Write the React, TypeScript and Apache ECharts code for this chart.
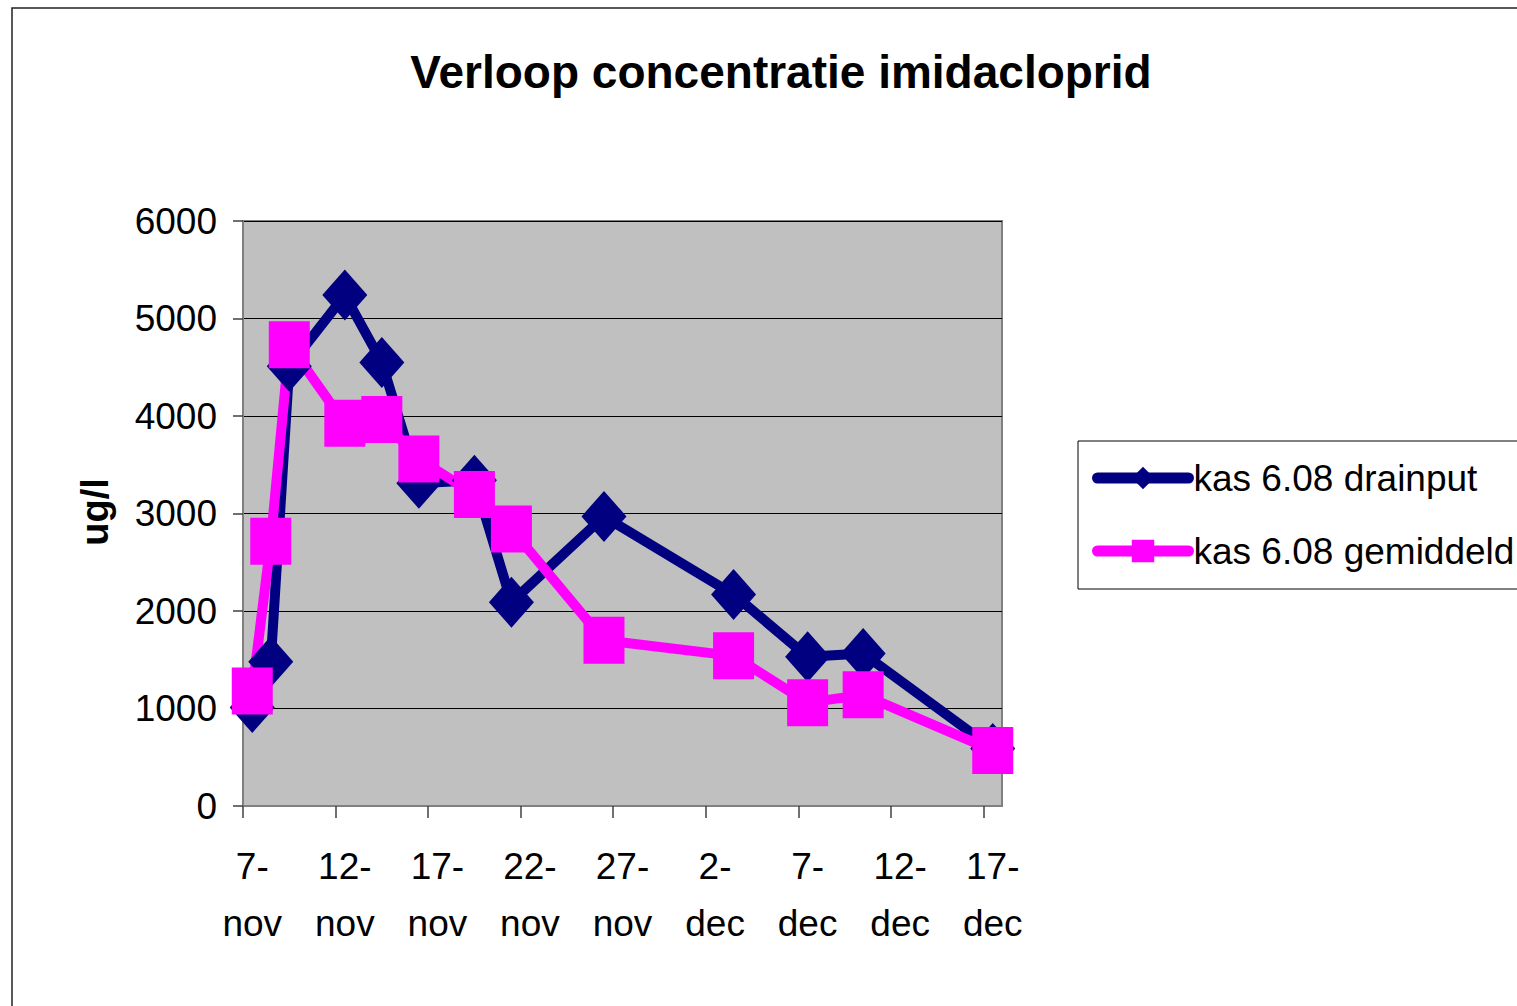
import React, { useEffect, useRef } from "react";
import * as echarts from "echarts";

// ---- data ----
const startDate = "2007-11-07";
const axisEndDate = "2007-12-18";
const sampleDates = [
  "2007-11-07", "2007-11-08", "2007-11-09", "2007-11-12", "2007-11-14",
  "2007-11-16", "2007-11-19", "2007-11-21", "2007-11-26", "2007-12-03",
  "2007-12-07", "2007-12-10", "2007-12-17",
];
const drainput = [1010, 1480, 4510, 5240, 4550, 3310, 3340, 2090, 2970, 2170, 1530, 1565, 590];
const gemiddeld = [1180, 2715, 4730, 3925, 3965, 3560, 3195, 2840, 1700, 1540, 1060, 1140, 570];
const tickDates = [
  "2007-11-07", "2007-11-12", "2007-11-17", "2007-11-22", "2007-11-27",
  "2007-12-02", "2007-12-07", "2007-12-12", "2007-12-17",
];
const tickLabels = ["7-\nnov", "12-\nnov", "17-\nnov", "22-\nnov", "27-\nnov", "2-\ndec", "7-\ndec", "12-\ndec", "17-\ndec"];
const seriesNames = ["kas 6.08 drainput", "kas 6.08 gemiddeld"];
const seriesColors = ["#000080", "#FF00FF"];
const titleText = "Verloop concentratie imidacloprid";
const yAxisTitle = "ug/l";

const DAY = 86400000;
const dayIndex = (d: string) => Math.round((Date.parse(d) - Date.parse(startDate)) / DAY);
// Excel date axis: each day occupies a slot; points sit in the middle of their day
const slotCenter = (d: string) => dayIndex(d) + 0.5;

const FONT = "'Liberation Sans', Arial, sans-serif";

export default function App() {
  const ref = useRef<HTMLDivElement>(null);
  useEffect(() => {
    if (!ref.current) return;
    const chart = echarts.init(ref.current, null, { renderer: "svg" });
    const tickDays = tickDates.map(dayIndex);
    const labelDays = tickDates.map(slotCenter);
    chart.setOption({
      animation: false,
      backgroundColor: "#ffffff",
      title: {
        text: titleText,
        left: 776,
        top: 44,
        textAlign: "center",
        textStyle: { fontFamily: FONT, fontSize: 46, fontWeight: "bold", color: "#000" },
      },
      legend: {
        orient: "vertical",
        left: 1078,
        top: 441,
        padding: [17, 60, 18, 14],
        itemGap: 33,
        itemWidth: 91,
        itemHeight: 28,
        borderColor: "#000",
        borderWidth: 1,
        lineStyle: { width: 11, cap: "round" },
        textStyle: { fontFamily: FONT, fontSize: 37, color: "#000", lineHeight: 40 },
        data: seriesNames,
      },
      graphic: [
        {
          type: "rect",
          shape: { x: 12, y: 8, width: 2000, height: 2000 },
          style: { fill: "none", stroke: "#222", lineWidth: 1.5 },
          silent: true,
        },
        {
          type: "text",
          x: 95,
          y: 512,
          rotation: Math.PI / 2,
          style: {
            text: yAxisTitle,
            font: `bold 38px ${FONT}`,
            fill: "#000",
            align: "center",
            verticalAlign: "middle",
          },
        },
      ],
      grid: {
        left: 243,
        top: 221,
        width: 759,
        height: 585,
        show: true,
        backgroundColor: "#C0C0C0",
        borderColor: "#808080",
        borderWidth: 2,
      },
      xAxis: {
        type: "value",
        min: 0,
        max: dayIndex(axisEndDate),
        splitLine: { show: false },
        axisLine: { show: true, onZero: false, lineStyle: { color: "#808080", width: 2 } },
        axisTick: {
          show: true,
          inside: false,
          length: 12,
          customValues: tickDays,
          lineStyle: { color: "#404040", width: 1.5 },
        },
        axisLabel: {
          customValues: labelDays,
          formatter: (v: number) => {
            const i = labelDays.findIndex((x) => Math.abs(x - v) < 0.01);
            return i >= 0 ? tickLabels[i] : "";
          },
          fontFamily: FONT,
          fontSize: 37,
          lineHeight: 57,
          color: "#000",
          margin: 32,
        },
      },
      yAxis: {
        type: "value",
        min: 0,
        max: 6000,
        interval: 1000,
        axisLine: { show: true, lineStyle: { color: "#808080", width: 2 } },
        axisTick: { show: true, length: 10, lineStyle: { color: "#404040", width: 1.5 } },
        splitLine: { show: true, lineStyle: { color: "#000", width: 1 } },
        axisLabel: {
          fontFamily: FONT,
          fontSize: 37,
          color: "#000",
          margin: 26,
          formatter: (v: number) => String(v),
        },
      },
      series: [
        {
          name: seriesNames[0],
          type: "line",
          data: sampleDates.map((d, i) => [slotCenter(d), drainput[i]]),
          symbol: "diamond",
          symbolSize: [45, 51],
          lineStyle: { color: seriesColors[0], width: 10, cap: "round", join: "round" },
          itemStyle: { color: seriesColors[0] },
        },
        {
          name: seriesNames[1],
          type: "line",
          data: sampleDates.map((d, i) => [slotCenter(d), gemiddeld[i]]),
          symbol: "rect",
          symbolSize: [41, 47],
          lineStyle: { color: seriesColors[1], width: 10, cap: "round", join: "round" },
          itemStyle: { color: seriesColors[1] },
        },
      ],
    });
    return () => chart.dispose();
  }, []);
  return (
    <div
      ref={ref}
      style={{ position: "absolute", left: 0, top: 0, width: 1517, height: 1006 }}
    />
  );
}
